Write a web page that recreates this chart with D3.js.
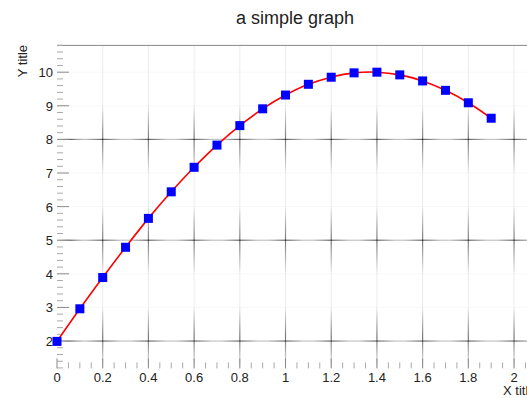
<!DOCTYPE html>
<html><head><meta charset="utf-8">
<script src="https://cdn.jsdelivr.net/npm/d3@7"></script>
<style>body{margin:0;background:#fff}svg{display:block}text{font-family:"Liberation Sans",Arial,sans-serif;fill:#222}</style>
</head><body>
<script>
const xValues = [0,0.1,0.2,0.3,0.4,0.5,0.6,0.7,0.8,0.9,1.0,1.1,1.2,1.3,1.4,1.5,1.6,1.7,1.8,1.9];
const yValues = [1.99,2.96,3.89,4.79,5.65,6.44,7.17,7.83,8.41,8.91,9.32,9.64,9.85,9.98,10.0,9.92,9.74,9.46,9.09,8.63];
const xTicks = [0,0.2,0.4,0.6,0.8,1,1.2,1.4,1.6,1.8,2];
const yTicks = [2,3,4,5,6,7,8,9,10];
const crossRows = [2,5,8];
const title = "a simple graph", xTitle = "X title", yTitle = "Y title";

const W=527,H=398;
const svg=d3.select("body").append("svg").attr("width",W).attr("height",H);
const x=d3.scaleLinear().domain([0,2.09]).range([57,534.6]);
const y=d3.scaleLinear().domain([1.186,10.797]).range([368.4,45.4]);
const defs=svg.append("defs");
const gh=defs.append("linearGradient").attr("id","gh").attr("x1",0).attr("x2",1).attr("y1",0).attr("y2",0);
gh.append("stop").attr("offset",0).attr("stop-color","#000").attr("stop-opacity",0);
gh.append("stop").attr("offset",0.5).attr("stop-color","#000").attr("stop-opacity",0.6);
gh.append("stop").attr("offset",1).attr("stop-color","#000").attr("stop-opacity",0);
const gv=defs.append("linearGradient").attr("id","gv").attr("x1",0).attr("x2",0).attr("y1",0).attr("y2",1);
gv.append("stop").attr("offset",0).attr("stop-color","#000").attr("stop-opacity",0);
gv.append("stop").attr("offset",0.5).attr("stop-color","#000").attr("stop-opacity",0.5);
gv.append("stop").attr("offset",1).attr("stop-color","#000").attr("stop-opacity",0);

const g=svg.append("g");
// faint grid
g.selectAll(".vg").data(xTicks.filter(d=>d>0)).enter().append("line")
 .attr("x1",d=>x(d)).attr("x2",d=>x(d)).attr("y1",y(10.797)).attr("y2",y(1.186))
 .attr("stroke","#000").attr("stroke-opacity",0.08).attr("stroke-width",1);
g.selectAll(".hg").data(yTicks).enter().append("line")
 .attr("x1",x(0)).attr("x2",W).attr("y1",d=>y(d)).attr("y2",d=>y(d))
 .attr("stroke","#000").attr("stroke-opacity",0.03).attr("stroke-width",1);
// crosses (dash pattern interference)
const cr=[];xTicks.forEach(a=>crossRows.forEach(b=>cr.push([a,b])));
g.selectAll(".ch").data(cr).enter().append("rect")
 .attr("x",d=>Math.max(x(0),x(d[0])-28)).attr("width",d=>x(d[0])+28-Math.max(x(0),x(d[0])-28))
 .attr("y",d=>y(d[1])-0.6).attr("height",1.2).attr("fill","url(#gh)");
g.selectAll(".cv").data(cr.filter(d=>d[0]>0)).enter().append("rect")
 .attr("x",d=>x(d[0])-0.6).attr("width",1.2)
 .attr("y",d=>y(d[1])-34).attr("height",d=>Math.min(68,y(1.186)-(y(d[1])-34)))
 .attr("fill","url(#gv)");
// top frame
g.append("line").attr("x1",x(0)).attr("x2",W).attr("y1",y(10.797)).attr("y2",y(10.797)).attr("stroke","#888").attr("stroke-width",1);
// y ticks
const yMinor=d3.range(1.2,10.8,0.2).map(v=>+v.toFixed(1)).filter(v=>Math.abs(v-Math.round(v))>0.01);
g.selectAll(".ymi").data(yMinor).enter().append("line")
 .attr("x1",x(0)).attr("x2",x(0)+6).attr("y1",d=>y(d)).attr("y2",d=>y(d)).attr("stroke","#aaa").attr("stroke-width",1);
g.selectAll(".yma").data(yTicks).enter().append("line")
 .attr("x1",x(0)).attr("x2",x(0)+12).attr("y1",d=>y(d)).attr("y2",d=>y(d)).attr("stroke","#888").attr("stroke-width",1);
g.selectAll(".yl").data(yTicks).enter().append("text")
 .attr("x",53).attr("y",d=>y(d)+5).attr("text-anchor","end").attr("font-size",13).text(d=>d);
// x ticks
const xMinor=d3.range(0.05,2.1,0.05).map(v=>+v.toFixed(2)).filter(v=>Math.abs(v*5-Math.round(v*5))>0.01);
g.selectAll(".xmi").data(xMinor).enter().append("line")
 .attr("x1",d=>x(d)).attr("x2",d=>x(d)).attr("y1",y(1.186)).attr("y2",y(1.186)-6).attr("stroke","#aaa").attr("stroke-width",1);
g.selectAll(".xma").data(xTicks).enter().append("line")
 .attr("x1",d=>x(d)).attr("x2",d=>x(d)).attr("y1",y(1.186)).attr("y2",y(1.186)-10).attr("stroke","#888").attr("stroke-width",1);
g.selectAll(".xl").data(xTicks).enter().append("text")
 .attr("x",d=>x(d)).attr("y",382).attr("text-anchor","middle").attr("font-size",13).text(d=>d);
// titles
svg.append("text").attr("x",295).attr("y",24).attr("text-anchor","middle").attr("font-size",18).text(title);
svg.append("text").attr("x",503).attr("y",395).attr("font-size",13).text(xTitle);
svg.append("text").attr("transform","translate(27,45) rotate(-90)").attr("text-anchor","end").attr("font-size",13).text(yTitle);
// curve
const pts=xValues.map((v,i)=>[v,yValues[i]]);
g.append("path").datum(pts).attr("fill","none").attr("stroke","#ff0000").attr("stroke-width",1.6)
 .attr("d",d3.line().x(d=>x(d[0])).y(d=>y(d[1])).curve(d3.curveCatmullRom));
g.selectAll(".m").data(pts).enter().append("rect")
 .attr("x",d=>x(d[0])-4.5).attr("y",d=>y(d[1])-4.5).attr("width",9).attr("height",9).attr("fill","#0000ff");
</script>
</body></html>
